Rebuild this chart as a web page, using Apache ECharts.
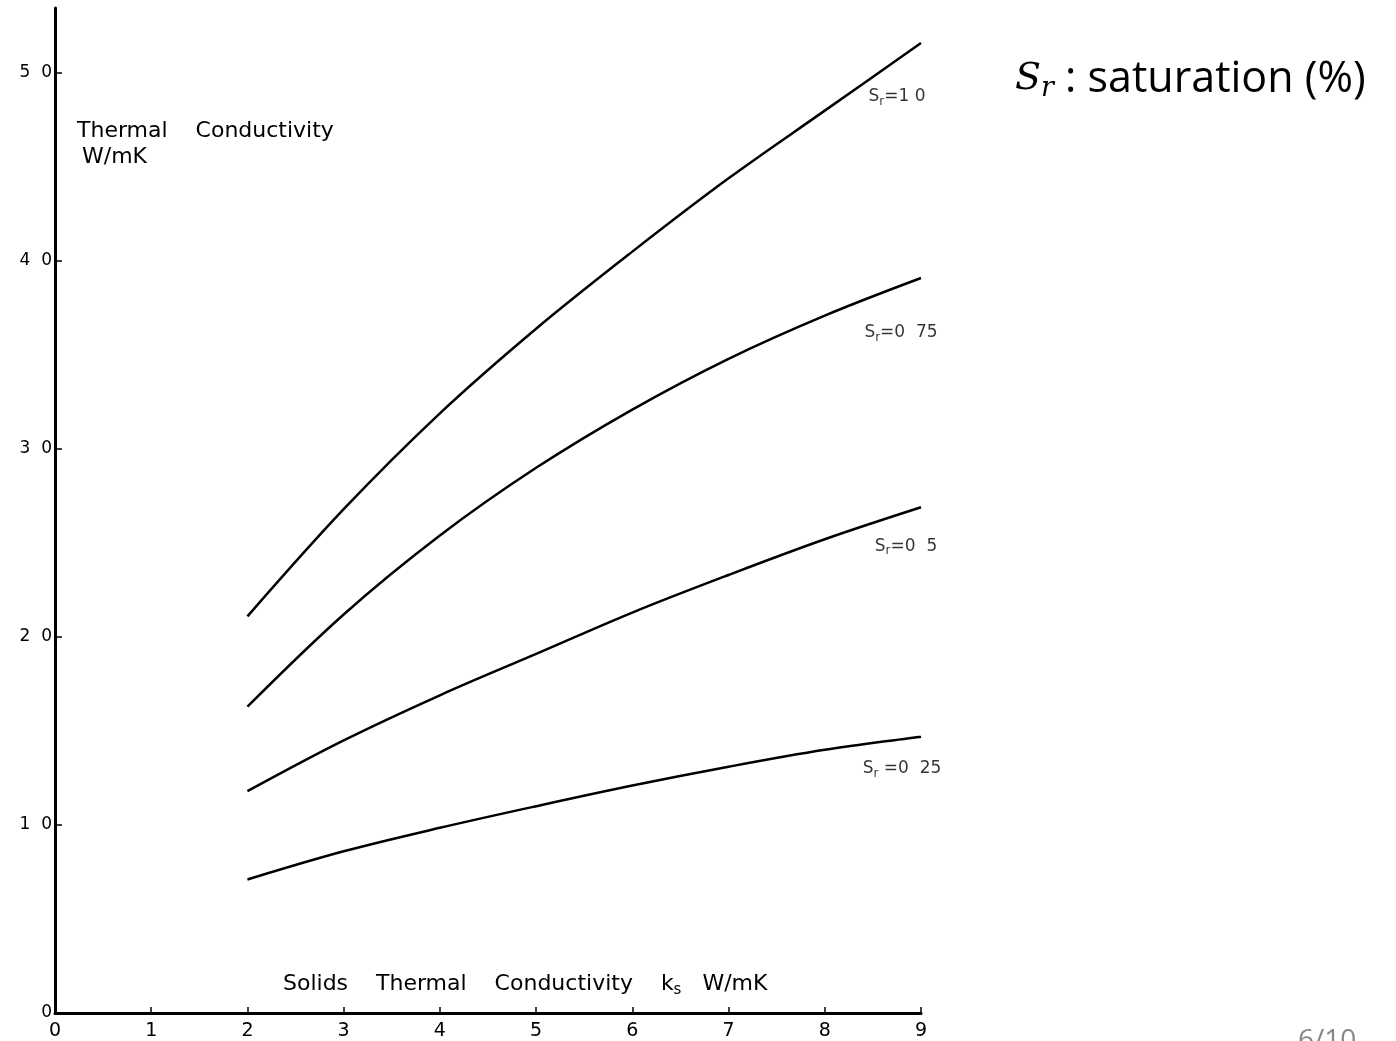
<!DOCTYPE html>
<html>
<head>
<meta charset="utf-8">
<script src="https://cdn.jsdelivr.net/npm/echarts@6/dist/echarts.min.js"></script>
<style>
html,body{margin:0;padding:0;background:#fff;}
#chart{width:1396px;height:1041px;}
</style>
</head>
<body>
<div id="chart"></div>
<script>
// Solids thermal conductivity ks (W/mK)
const ks = [2, 3, 4, 5, 6, 7, 8, 9];
// Thermal conductivity (W/mK) for each saturation curve
const sr100 = [2.11, 2.68, 3.19, 3.64, 4.05, 4.44, 4.80, 5.16];
const sr075 = [1.63, 2.12, 2.54, 2.90, 3.21, 3.48, 3.71, 3.91];
const sr050 = [1.18, 1.45, 1.69, 1.91, 2.13, 2.33, 2.52, 2.69];
const sr025 = [0.71, 0.86, 0.985, 1.10, 1.21, 1.31, 1.40, 1.47];
const curveNames = ['1 0', '0 75', '0 5', '0 25'];
const curveLabels = ['{s|S}{r|r}{s|=1 0}', '{s|S}{r|r}{s|=0  75}', '{s|S}{r|r}{s|=0  5}', '{s|S}{r|r}{s| =0  25}'];
const xTicks = [0, 1, 2, 3, 4, 5, 6, 7, 8, 9];
const yTickLabels = ['0', '1  0', '2  0', '3  0', '4  0', '5  0'];

const curves = [sr100, sr075, sr050, sr025];
const labelOffsets = [[-24, 54], [-20, 55], [-15, 39], [-19, 32]];

const chart = echarts.init(document.getElementById('chart'), null, {renderer: 'canvas'});
const FONT = 'DejaVu Sans';

const lineSeries = curves.map((c, i) => ({
  type: 'line',
  name: curveNames[i],
  data: ks.map((k, j) => [k, c[j]]),
  smooth: 0.35,
  showSymbol: false,
  symbol: 'none',
  lineStyle: {color: '#000', width: 2.5},
  silent: true,
  z: 3
}));

const labelSeries = curves.map((c, i) => ({
  type: 'scatter',
  data: [[ks[ks.length - 1], c[c.length - 1]]],
  symbolSize: 0,
  silent: true,
  label: {
    show: true,
    position: 'inside',
    offset: labelOffsets[i],
    formatter: curveLabels[i],
    rich: {
      s: {fontFamily: FONT, fontSize: 17, color: '#000'},
      r: {fontFamily: FONT, fontSize: 12, color: '#000', padding: [10, 0, 0, 0]}
    }
  }
}));

chart.setOption({
  animation: false,
  backgroundColor: '#fff',
  grid: {left: 55, right: 475, top: 8, bottom: 28, containLabel: false},
  xAxis: {
    type: 'value',
    min: 0, max: 9, interval: 1,
    axisLine: {show: true, lineStyle: {color: '#000', width: 3}},
    axisTick: {show: true, inside: true, length: 6, lineStyle: {color: '#000', width: 1.5}},
    axisLabel: {
      margin: 9, fontFamily: FONT, fontSize: 19, color: '#000',
      formatter: v => String(xTicks[v])
    },
    splitLine: {show: false}
  },
  yAxis: {
    type: 'value',
    min: 0, max: 5.346, interval: 1,
    axisLine: {show: true, onZero: false, lineStyle: {color: '#000', width: 3}},
    axisTick: {show: true, inside: true, length: 7, lineStyle: {color: '#000', width: 1.5}},
    axisLabel: {
      margin: 3, fontFamily: FONT, fontSize: 17, color: '#000',
      showMaxLabel: false,
      formatter: v => yTickLabels[Math.round(v)] || ''
    },
    splitLine: {show: false}
  },
  series: lineSeries.concat(labelSeries),
  graphic: [
    {type: 'text', left: 77, top: 120, style: {text: 'Thermal    Conductivity', font: '22px "DejaVu Sans"', fill: '#000'}},
    {type: 'text', left: 82, top: 146, style: {text: 'W/mK', font: '22px "DejaVu Sans"', fill: '#000'}},
    {type: 'text', left: 283, top: 973, style: {
      text: '{t|Solids    Thermal    Conductivity    k}{sub|s}{t|   W/mK}',
      rich: {
        t: {fontFamily: FONT, fontSize: 22, fill: '#000'},
        sub: {fontFamily: FONT, fontSize: 15, fill: '#000', padding: [12, 0, 0, 0]}
      }
    }},
    {type: 'text', left: 1015, top: 58, style: {
      text: '{m|S}{mr|r}{t| : saturation (%)}',
      rich: {
        m: {fontFamily: 'DejaVu Serif', fontStyle: 'italic', fontSize: 38, fill: '#000'},
        mr: {fontFamily: 'DejaVu Serif', fontStyle: 'italic', fontSize: 27, fill: '#000', padding: [18, 0, 0, 0]},
        t: {fontFamily: 'Open Sans', fontSize: 43, fill: '#000'}
      }
    }},
    {type: 'text', left: 1298, top: 1027, style: {text: '6/10', font: '28px "Open Sans"', fill: '#888'}}
  ]
});
</script>
</body>
</html>
